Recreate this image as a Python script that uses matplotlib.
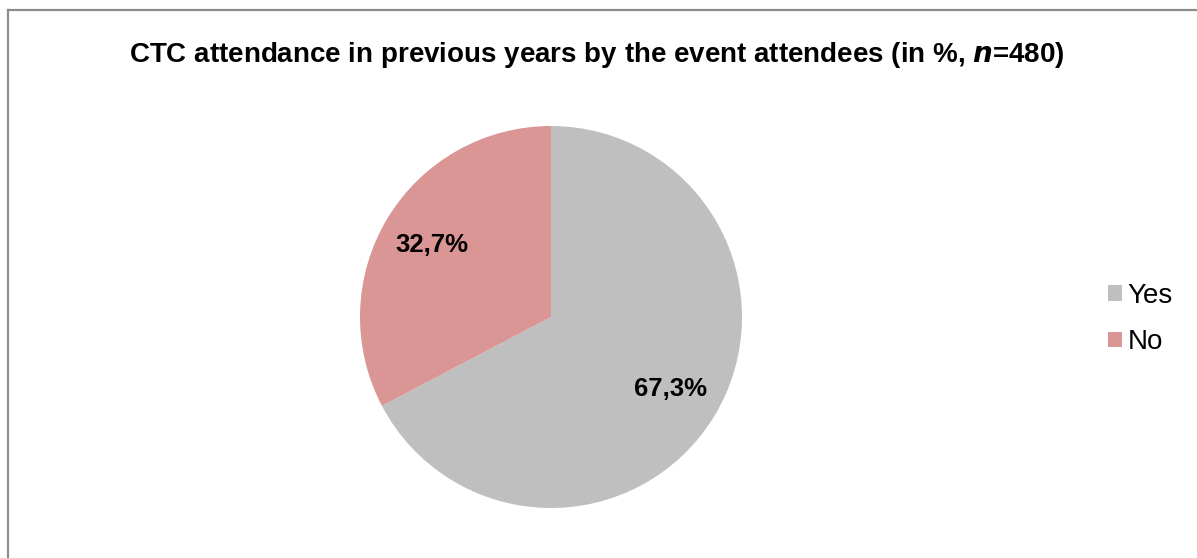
import matplotlib.pyplot as plt
from matplotlib.lines import Line2D
from matplotlib.patches import Patch

plt.rcParams['font.family'] = ['Liberation Sans', 'DejaVu Sans']

labels = ["Yes", "No"]
shares = [67.3, 32.7]
colors = ["#bfbfbf", "#d99694"]
title = "CTC attendance in previous years by the event attendees (in %, $\\mathbfit{n}$=480)"


def pct_label(p):
    return f"{p:.1f}%".replace(".", ",")


def main():
    fig = plt.figure(figsize=(11.97, 5.58), dpi=100)

    # chart frame (top and left edges only show)
    fig.add_artist(Line2D([8 / 1197, 1], [1 - 10 / 558, 1 - 10 / 558],
                          color="#8c8c8c", linewidth=1.6, transform=fig.transFigure))
    fig.add_artist(Line2D([8 / 1197, 8 / 1197], [0, 1 - 10 / 558],
                          color="#8c8c8c", linewidth=1.6, transform=fig.transFigure))

    fig.text(597 / 1197, 1 - 55 / 558, title, ha="center", va="center",
             fontsize=20, fontweight="bold")

    ax = fig.add_axes([(551 - 191) / 1197, (558 - 508) / 558, 382 / 1197, 382 / 558])
    ax.pie(shares, colors=colors, startangle=90, counterclock=False,
           autopct=pct_label, pctdistance=0.73,
           textprops={"fontsize": 18.5, "fontweight": "bold", "color": "black"})
    ax.set_xlim(-1, 1)
    ax.set_ylim(-1, 1)
    ax.set_aspect("equal")

    handles = [Patch(facecolor=c, edgecolor="none") for c in colors]
    fig.legend(handles, labels, loc="center left", bbox_to_anchor=(1100 / 1197, 1 - 319 / 558),
               frameon=False, fontsize=20, handlelength=0.5, handleheight=0.5,
               handletextpad=0.2, labelspacing=0.75, borderaxespad=0, borderpad=0.3)

    fig.savefig("out.png", dpi=100)


if __name__ == "__main__":
    main()
